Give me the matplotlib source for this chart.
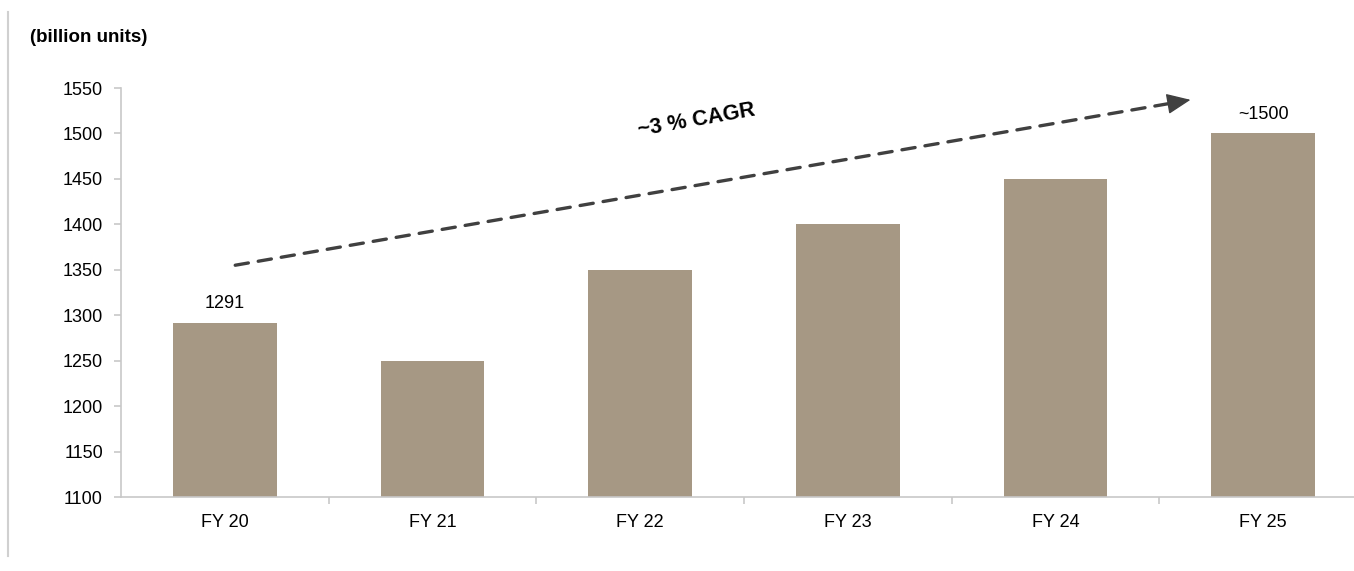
import matplotlib
matplotlib.use("Agg")
import matplotlib.pyplot as plt
from matplotlib.lines import Line2D

# data
years = ["FY 20", "FY 21", "FY 22", "FY 23", "FY 24", "FY 25"]
volumes = [1291, 1250, 1350, 1400, 1450, 1500]
bar_labels = {0: "1291", 5: "~1500"}
y_ticks = list(range(1100, 1551, 50))

plt.rcParams['font.family'] = ['Liberation Sans', 'DejaVu Sans']

fig = plt.figure(figsize=(13.54, 5.71), dpi=100)
ax = fig.add_axes([121 / 1354, 1 - 497 / 571, 1246 / 1354, 409 / 571])

x = list(range(len(years)))
ax.bar(x, volumes, width=0.5, color="#A69884", zorder=2)

ax.set_xlim(-0.5, len(years) - 0.5)
ax.set_ylim(1100, 1550)
ax.set_yticks(y_ticks)
ax.set_yticklabels([str(t) for t in y_ticks], fontsize=13)

# category labels centred, tick marks between categories
ax.set_xticks(x)
ax.set_xticklabels(years, fontsize=13)
ax.tick_params(axis="x", length=0, pad=12)
ax.set_xticks([i + 0.5 for i in x[:-1]], minor=True)
ax.tick_params(axis="x", which="minor", length=5, color="#c8c8c8", width=1.2)
ax.tick_params(axis="y", length=5, color="#c8c8c8", width=1.2, pad=8)

for s in ["top", "right"]:
    ax.spines[s].set_visible(False)
for s in ["left", "bottom"]:
    ax.spines[s].set_color("#c8c8c8")
    ax.spines[s].set_linewidth(1.2)

for i, lab in bar_labels.items():
    ax.text(i, volumes[i] + 12, lab, ha="center", va="bottom", fontsize=13)

# CAGR arrow: dashed shaft plus a solid filled head
x0, y0, x1, y1 = 0.05, 1355, 4.65, 1537
ax.annotate("", xy=(x1 - 0.08, y1 - 3.2), xytext=(x0, y0),
            arrowprops=dict(arrowstyle="-", color="#404040", lw=2.4,
                            linestyle=(0, (4, 3)), shrinkA=0, shrinkB=0))
ax.annotate("", xy=(x1, y1), xytext=(x1 - 0.1, y1 - 4),
            arrowprops=dict(arrowstyle="-|>,head_length=1.5,head_width=0.65",
                            color="#404040", lw=1, shrinkA=0, shrinkB=0))
ax.text(2.27, 1515, "~3 % CAGR", rotation=10, ha="center", va="center",
        fontsize=15.5, fontweight="bold")

fig.text(30 / 1354, 1 - 38 / 571, "(billion units)", fontsize=13.5,
         fontweight="bold", va="center")

# thin grey border line on the left
fig.add_artist(Line2D([8 / 1354, 8 / 1354], [1 - 12 / 571, 1 - 556 / 571],
                      color="#d0d0d0", lw=1.5, transform=fig.transFigure))

fig.savefig("out.png", dpi=100)
